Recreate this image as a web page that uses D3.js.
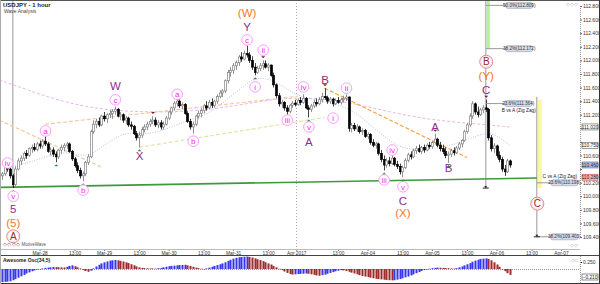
<!DOCTYPE html>
<html>
<head>
<meta charset="utf-8">
<script src="https://cdn.jsdelivr.net/npm/d3@7/dist/d3.min.js"></script>
<style>
  body { margin: 0; background: #fff; }
  svg text { font-family: "Liberation Sans", Arial, sans-serif; }
</style>
</head>
<body>
<div id="chart"></div>
<script>
// hourly USDJPY candles, index 0 = Mar-27 10:00 (weekend gap removed)
var opens  = [110.30,110.33,110.42,110.40,110.30,110.17,110.40,110.52,110.56,110.63,110.60,110.70,110.72,110.69,110.77,110.74,110.81,110.77,110.66,110.68,
              110.62,110.58,110.68,110.72,110.75,110.77,110.66,110.55,110.45,110.38,110.30,110.33,110.50,110.58,110.95,111.06,111.10,111.05,111.18,111.14,
              111.20,111.22,111.25,111.28,111.18,111.20,111.12,111.15,111.05,111.03,110.92,110.86,110.90,110.98,111.02,111.06,111.10,111.12,111.05,111.08,
              111.02,111.06,111.15,111.24,111.30,111.37,111.40,111.33,111.35,111.22,111.10,111.02,111.06,111.18,111.22,111.26,111.33,111.30,111.38,111.34,
              111.40,111.47,111.52,111.55,111.70,111.82,111.85,111.92,111.97,112.05,112.02,112.10,112.08,112.00,111.90,111.82,111.88,111.92,111.95,111.90,
              111.93,111.78,111.64,111.48,111.36,111.38,111.30,111.25,111.34,111.37,111.35,111.41,111.38,111.44,111.30,111.28,111.33,111.38,111.36,111.42,
              111.47,111.45,111.40,111.43,111.36,111.41,111.38,111.42,111.44,111.46,111.00,111.04,110.99,111.02,110.95,110.97,110.88,110.91,110.79,110.75,
              110.77,110.63,110.54,110.46,110.52,110.48,110.56,110.47,110.44,110.36,110.42,110.53,110.61,110.58,110.67,110.70,110.66,110.72,110.68,110.75,
              110.73,110.79,110.84,110.75,110.70,110.66,110.60,110.62,110.67,110.64,110.71,110.77,110.82,110.95,111.05,111.18,111.36,111.24,111.20,111.27,
              111.30,111.28,110.86,110.70,110.74,110.60,110.54,110.40,110.36,110.52];
var highs  = [110.36,110.45,110.47,110.42,110.33,110.44,110.56,110.60,110.66,110.68,110.72,110.76,110.78,110.80,110.82,110.84,110.88,110.80,110.72,110.72,
              110.66,110.70,110.76,110.78,110.80,110.79,110.68,110.58,110.50,110.42,110.36,110.52,110.62,110.98,111.12,111.14,111.16,111.20,111.24,111.22,
              111.27,111.28,111.32,111.30,111.24,111.22,111.18,111.17,111.10,111.05,110.96,110.95,111.02,111.06,111.10,111.14,111.18,111.16,111.12,111.12,
              111.10,111.18,111.26,111.32,111.40,111.45,111.43,111.38,111.37,111.25,111.14,111.10,111.20,111.26,111.30,111.36,111.40,111.42,111.44,111.42,
              111.50,111.56,111.58,111.72,111.86,111.90,111.96,112.00,112.08,112.12,112.14,112.22,112.12,112.06,111.96,111.92,111.96,112.00,112.00,111.96,
              111.94,111.82,111.66,111.52,111.42,111.40,111.34,111.36,111.40,111.42,111.44,111.46,111.50,111.46,111.34,111.36,111.42,111.44,111.46,111.52,
              111.59,111.48,111.46,111.45,111.44,111.46,111.45,111.48,111.50,111.47,111.08,111.08,111.06,111.04,111.00,110.99,110.94,110.93,110.84,110.80,
              110.79,110.68,110.60,110.56,110.58,110.62,110.58,110.52,110.48,110.45,110.56,110.64,110.66,110.70,110.74,110.76,110.74,110.76,110.78,110.80,
              110.82,110.92,110.86,110.80,110.76,110.72,110.66,110.70,110.72,110.74,110.80,110.84,110.98,111.08,111.22,111.40,111.38,111.32,111.30,111.34,
              111.42,111.30,110.90,110.78,110.76,110.66,110.58,110.46,110.55,110.54];
var lows   = [110.24,110.30,110.36,110.26,110.12,110.14,110.38,110.46,110.52,110.55,110.58,110.64,110.66,110.66,110.70,110.70,110.74,110.64,110.60,110.58,
              110.50,110.55,110.62,110.66,110.70,110.64,110.52,110.42,110.34,110.26,110.22,110.30,110.46,110.56,110.92,111.00,111.02,111.03,111.10,111.08,
              111.15,111.14,111.20,111.16,111.12,111.08,111.06,111.02,110.98,110.90,110.82,110.72,110.86,110.94,110.97,111.02,111.06,111.02,111.00,110.98,
              110.98,111.04,111.12,111.20,111.26,111.32,111.30,111.28,111.20,111.08,110.98,110.92,111.03,111.14,111.16,111.22,111.26,111.28,111.30,111.30,
              111.36,111.44,111.46,111.52,111.66,111.76,111.80,111.86,111.92,111.98,112.00,112.04,111.96,111.86,111.78,111.80,111.84,111.86,111.88,111.84,
              111.76,111.60,111.44,111.32,111.30,111.26,111.18,111.22,111.30,111.32,111.33,111.34,111.36,111.28,111.16,111.24,111.30,111.32,111.34,111.38,
              111.42,111.36,111.36,111.32,111.34,111.36,111.35,111.38,111.40,110.95,110.94,110.96,110.95,110.92,110.90,110.86,110.84,110.76,110.72,110.70,
              110.60,110.50,110.38,110.42,110.44,110.46,110.44,110.40,110.32,110.28,110.40,110.50,110.54,110.56,110.62,110.64,110.62,110.64,110.66,110.70,
              110.70,110.76,110.72,110.66,110.62,110.56,110.49,110.58,110.60,110.62,110.68,110.72,110.80,110.92,111.02,111.14,111.20,111.16,111.18,111.22,
              111.24,110.82,110.66,110.64,110.56,110.50,110.36,110.30,110.34,110.42];
var closes = [110.33,110.42,110.40,110.30,110.17,110.40,110.52,110.56,110.63,110.60,110.70,110.72,110.69,110.77,110.74,110.81,110.77,110.66,110.68,110.62,
              110.58,110.68,110.72,110.75,110.77,110.66,110.55,110.45,110.38,110.30,110.33,110.50,110.58,110.95,111.06,111.10,111.05,111.18,111.14,111.20,
              111.22,111.25,111.28,111.18,111.20,111.12,111.15,111.05,111.03,110.92,110.86,110.90,110.98,111.02,111.06,111.10,111.12,111.05,111.08,111.02,
              111.06,111.15,111.24,111.30,111.37,111.40,111.33,111.35,111.22,111.10,111.02,111.06,111.18,111.22,111.26,111.33,111.30,111.38,111.34,111.40,
              111.47,111.52,111.55,111.70,111.82,111.85,111.92,111.97,112.05,112.02,112.10,112.08,112.00,111.90,111.82,111.88,111.92,111.95,111.90,111.93,
              111.78,111.64,111.48,111.36,111.38,111.30,111.25,111.34,111.37,111.35,111.41,111.38,111.44,111.30,111.28,111.33,111.38,111.36,111.42,111.47,
              111.45,111.40,111.43,111.36,111.41,111.38,111.42,111.44,111.46,111.00,111.04,110.99,111.02,110.95,110.97,110.88,110.91,110.79,110.75,110.77,
              110.63,110.54,110.46,110.52,110.48,110.56,110.47,110.44,110.36,110.42,110.53,110.61,110.58,110.67,110.70,110.66,110.72,110.68,110.75,110.73,
              110.79,110.84,110.75,110.70,110.66,110.60,110.62,110.67,110.64,110.71,110.77,110.82,110.95,111.05,111.18,111.36,111.24,111.20,111.27,111.30,
              111.28,110.86,110.70,110.74,110.60,110.54,110.40,110.36,110.52,110.46];

// Awesome Oscillator, one value per candle
var aoValues = [-0.47,-0.46,-0.45,-0.44,-0.40,-0.36,-0.31,-0.26,-0.21,-0.16,-0.12,-0.08,-0.05,-0.02,0.00,0.02,0.04,0.05,0.06,0.07,
                0.066,0.062,0.058,0.056,0.08,0.11,0.13,0.10,0.06,0.02,-0.03,-0.07,-0.10,-0.06,0.02,0.09,0.15,0.20,0.24,0.27,
                0.30,0.31,0.32,0.31,0.29,0.27,0.24,0.21,0.17,0.13,0.09,0.06,0.04,0.03,0.025,0.02,0.018,0.016,0.03,0.04,
                0.06,0.08,0.10,0.11,0.12,0.13,0.14,0.145,0.15,0.13,0.11,0.08,0.05,0.03,0.01,0.00,0.02,0.05,0.08,0.11,
                0.14,0.17,0.20,0.24,0.29,0.33,0.37,0.40,0.42,0.43,0.44,0.445,0.43,0.41,0.38,0.35,0.32,0.28,0.24,0.20,
                0.16,0.11,0.06,0.01,-0.04,-0.09,-0.14,-0.18,-0.20,-0.19,-0.18,-0.175,-0.17,-0.16,-0.17,-0.19,-0.21,-0.23,-0.24,-0.22,
                -0.20,-0.17,-0.14,-0.11,-0.08,-0.06,-0.04,-0.05,-0.07,-0.10,-0.13,-0.16,-0.19,-0.22,-0.25,-0.27,-0.29,-0.31,-0.33,-0.35,
                -0.36,-0.37,-0.38,-0.39,-0.40,-0.405,-0.40,-0.38,-0.36,-0.33,-0.30,-0.27,-0.23,-0.19,-0.15,-0.11,-0.07,-0.04,-0.01,0.01,
                0.03,0.04,0.05,0.045,0.04,0.035,0.03,0.02,0.015,0.03,0.06,0.09,0.13,0.17,0.21,0.26,0.30,0.33,0.36,0.37,
                0.38,0.36,0.31,0.24,0.16,0.08,0.00,-0.08,-0.15,-0.21];

// moving averages: [index, price]
var slowMA = [[-1,111.71],[10,111.56],[20,111.42],[33,111.30],[48,111.24],[66,111.24],[81,111.29],[96,111.40],[109,111.46],
              [126,111.42],[148,111.20],[163,111.11],[178,111.06],[189,111.02]];
var fastMA = [[4,110.43],[15,110.56],[24,110.68],[31,110.55],[38,110.75],[46,110.96],[53,110.90],[61,110.98],[69,111.12],
              [76,111.19],[83,111.40],[91,111.66],[95,111.76],[102,111.70],[109,111.48],[118,111.41],[130,111.31],
              [139,110.97],[148,110.71],[154,110.68],[164,110.71],[173,110.83],[180,110.94],[184,110.90],[189,110.75]];

// trend lines: [index, price] pairs
var trendLines = [
  {pts: [[-1,111.12],[37,110.43]], color: "#f7c9a0"},
  {pts: [[16,111.06],[110,111.47]], color: "#f7c9a0"},
  {pts: [[51,110.72],[120,111.16]], color: "#e6e2a8"},
  {pts: [[120,111.59],[173,110.57]], color: "#f2a13c"}
];
var supportLine = [[-1,110.13],[215,110.28]];

// wave labels: text, index, price, kind
var waveLabels = [
  ["iv",1.9,110.49,"minor"],["v",4,110.00,"minor"],["5",4,109.81,"inter"],["(5)",4,109.61,"primary"],["A",4,109.41,"cycle"],
  ["a",16,110.96,"minor"],["b",30,110.09,"minor"],["c",42,111.42,"minor"],["W",42,111.62,"inter"],["X",51,110.59,"inter"],
  ["a",65,111.50,"minor"],["b",71,110.81,"minor"],["c",91,112.30,"minor"],["Y",91,112.49,"inter"],["(W)",91,112.70,"primary"],
  ["i",94,111.61,"minor"],["ii",97,112.15,"minor"],["iii",106,111.12,"minor"],["iv",112,111.61,"minor"],["v",114,111.02,"minor"],
  ["A",114,110.80,"inter"],["B",120,111.71,"inter"],["i",123,111.15,"minor"],["ii",128,111.59,"minor"],["iii",142,110.24,"minor"],
  ["iv",145,110.68,"minor"],["v",149,110.14,"minor"],["C",149,109.94,"inter"],["(X)",149,109.75,"primary"],
  ["A",161,111.02,"inter"],["B",166,110.42,"inter"],["B",180,111.98,"cycle"],["(Y)",180,111.78,"primary"],["C",180,111.57,"inter"],
  ["C",199,109.89,"cycle"]
];
var pivotHighs = [16,42,56,65,91,97,112,120,128,161,180];
var pivotLows = [4,20,30,51,71,94,106,114,142,149,166];

// fib measurement tool
var fibTop = [{text: "50.0%(112.809)", price: 112.809}, {text: "38.2%(112.172)", price: 112.172}];
var fibB = {text: "23.6%(111.364)", price: 111.364, name: "B vs A (Zig Zag)"};
var fibC = [{text: "23.6%(110.198)", price: 110.198, name: "C vs A (Zig Zag)"}, {text: "38.2%(109.403)", price: 109.403}];
var waveLow = 110.12, cTop = 111.42;

var priceTicks = [109.4,109.6,109.8,110.0,110.2,110.4,110.6,110.8,111.0,111.2,111.4,111.6,111.8,112.0,112.2,112.4,112.6,112.8];
var timeTicks = [14,27,38,51,62,75,86,99,109.5,125,136,149,160,173,184,197,208];
var timeLabels = ["Mar-28","13:00","Mar-29","13:00","Mar-30","13:00","Mar-31","13:00","Apr 2017","13:00",
                  "Apr-04","13:00","Apr-05","13:00","Apr-06","13:00","Apr-07"];

window.onload = function() {
  var width = 600, height = 284;
  var plotRight = 580, plotBottom = 249;

  var svg = d3.select("#chart").append("svg")
    .attr("width", width).attr("height", height);

  var x = d3.scaleLinear().domain([0, 208]).range([2, 561]);
  var y = d3.scaleLinear().domain([109.4, 112.8]).range([237, 6]);
  var yAo = d3.scaleLinear().domain([0, 0.25]).range([269, 262]);

  var plot = svg.append("g");
  plot.append("clipPath").attr("id", "clip")
    .append("rect").attr("x", 0).attr("y", 0).attr("width", plotRight).attr("height", plotBottom);
  var g = plot.append("g").attr("clip-path", "url(#clip)");

  // month separator
  g.append("line")
    .attr("x1", Math.round(x(109.5)) + 0.5).attr("x2", Math.round(x(109.5)) + 0.5)
    .attr("y1", 0).attr("y2", plotBottom)
    .style("stroke", "#aaa").style("stroke-dasharray", "1,2");

  // vertical markers of the measuring tool
  [4, 180].forEach(function(i) {
    g.append("line")
      .attr("x1", x(i)).attr("x2", x(i)).attr("y1", 0).attr("y2", y(waveLow))
      .style("stroke", "#bdbdbd").style("stroke-width", 1.6);
  });
  g.append("rect").attr("x", x(180) + 1).attr("width", 3)
    .attr("y", 0).attr("height", y(fibTop[1].price))
    .style("fill", "#b5f29b");
  g.append("rect").attr("x", x(199) + 1).attr("width", 4)
    .attr("y", y(cTop)).attr("height", y(waveLow) - y(cTop))
    .style("fill", "#fbf7a0");
  g.append("line")
    .attr("x1", x(199)).attr("x2", x(199)).attr("y1", y(cTop) - 3).attr("y2", y(fibC[1].price))
    .style("stroke", "#9a9a9a").style("stroke-width", 1);

  // moving averages
  var line = d3.line().x(function(d) { return x(d[0]); }).y(function(d) { return y(d[1]); }).curve(d3.curveBasis);
  g.append("path").datum(slowMA).attr("d", line)
    .style("fill", "none").style("stroke", "#e9b7e6").style("stroke-width", 1).style("stroke-dasharray", "3,2");
  g.append("path").datum(fastMA).attr("d", line)
    .style("fill", "none").style("stroke", "#9fb4f4").style("stroke-width", 0.8).style("stroke-dasharray", "1,1.5");

  var straight = d3.line().x(function(d) { return x(d[0]); }).y(function(d) { return y(d[1]); });
  trendLines.forEach(function(t) {
    g.append("path").datum(t.pts).attr("d", straight)
      .style("fill", "none").style("stroke", t.color).style("stroke-width", 1.2).style("stroke-dasharray", "4,2");
  });

  // support line, stops at the measuring tool
  var supportEnd = [supportLine[0], [199, supportLine[0][1] + (supportLine[1][1] - supportLine[0][1]) * 200 / 216]];
  g.append("path").datum(supportEnd).attr("d", straight)
    .style("stroke", "#3c9a3c").style("stroke-width", 1.6).style("fill", "none");

  // candles
  var idx = d3.range(closes.length);
  var candles = g.append("g").selectAll("g").data(idx).enter().append("g");
  candles.append("line")
    .attr("x1", function(i) { return Math.round(x(i)) + 0.5; })
    .attr("x2", function(i) { return Math.round(x(i)) + 0.5; })
    .attr("y1", function(i) { return y(highs[i]); })
    .attr("y2", function(i) { return y(lows[i]); })
    .style("stroke", function(i) { return closes[i] >= opens[i] ? "#777" : "#111"; })
    .style("stroke-width", 0.8);
  candles.append("rect")
    .attr("x", function(i) { return Math.round(x(i)) - 0.5; })
    .attr("width", 2)
    .attr("y", function(i) { return y(Math.max(opens[i], closes[i])); })
    .attr("height", function(i) { return Math.max(1, Math.abs(y(opens[i]) - y(closes[i]))); })
    .style("fill", function(i) { return closes[i] >= opens[i] ? "#fff" : "#000"; })
    .style("stroke", function(i) { return closes[i] >= opens[i] ? "#808080" : "#000"; })
    .style("stroke-width", 0.7);

  // pivot markers
  g.selectAll(".ph").data(pivotHighs).enter().append("path")
    .attr("d", function(i) { var cx = x(i) + 0.5, cy = y(highs[i]) - 2; return "M" + (cx - 2) + "," + (cy - 2) + "L" + (cx + 2) + "," + (cy - 2) + "L" + cx + "," + cy + "Z"; })
    .style("fill", "#7a1f2a");
  g.selectAll(".pl").data(pivotLows).enter().append("path")
    .attr("d", function(i) { var cx = x(i) + 0.5, cy = y(lows[i]) + 2; return "M" + (cx - 2) + "," + (cy + 2) + "L" + (cx + 2) + "," + (cy + 2) + "L" + cx + "," + cy + "Z"; })
    .style("fill", "#2e8b3e");

  // fib level lines and boxes
  function levelBox(xs, xe, price, text) {
    g.append("line").attr("x1", xs).attr("x2", xe).attr("y1", y(price)).attr("y2", y(price))
      .style("stroke", "#9a9a9a").style("stroke-width", 1);
    g.append("rect").attr("x", xe).attr("y", y(price) - 3).attr("width", 27).attr("height", 6).attr("rx", 2)
      .style("fill", "#d9dcea").style("stroke", "#8a8fa8").style("stroke-width", 0.5);
    g.append("text").attr("x", xe + 13.5).attr("y", y(price) + 1.6).attr("text-anchor", "middle")
      .style("font-size", "4.6px").style("fill", "#333").text(text);
  }
  fibTop.forEach(function(f) { levelBox(x(180), x(180) + 20, f.price, f.text); });
  levelBox(x(180), x(180) + 19, fibB.price, fibB.text);
  g.append("text").attr("x", x(180) + 33).attr("y", y(fibB.price) + 8).attr("text-anchor", "middle")
    .style("font-size", "4.8px").style("fill", "#222").text(fibB.name);
  levelBox(x(199), x(199) + 14, fibC[0].price, fibC[0].text);
  g.append("text").attr("x", 577).attr("y", y(fibC[0].price) - 5).attr("text-anchor", "end")
    .style("font-size", "4.8px").style("fill", "#222").text(fibC[0].name);
  levelBox(x(199), x(199) + 14, fibC[1].price, fibC[1].text);
  // T marks at the bottom of the vertical lines
  [[180, waveLow], [199, fibC[1].price]].forEach(function(p) {
    g.append("line").attr("x1", x(p[0]) - 3).attr("x2", x(p[0]) + 3).attr("y1", y(p[1])).attr("y2", y(p[1]))
      .style("stroke", "#222").style("stroke-width", 1);
    g.append("path").attr("d", "M" + (x(p[0]) - 1.5) + "," + (y(p[1]) - 2) + "L" + (x(p[0]) + 1.5) + "," + (y(p[1]) - 2) + "L" + x(p[0]) + "," + y(p[1]) + "Z")
      .style("fill", "#222");
  });

  // wave labels
  var labels = g.append("g");
  waveLabels.forEach(function(w) {
    var cx = x(w[1]) + 0.5, cy = y(w[2]);
    if (w[3] === "minor") {
      labels.append("circle").attr("cx", cx).attr("cy", cy).attr("r", 5.3)
        .style("fill", "#fff").style("stroke", "#ff9cff").style("stroke-width", 1);
      labels.append("text").attr("x", cx).attr("y", cy + 2.8).attr("text-anchor", "middle")
        .style("font-size", "8px").style("fill", "#f02cf0").text(w[0]);
    } else if (w[3] === "inter") {
      labels.append("text").attr("x", cx).attr("y", cy + 4.2).attr("text-anchor", "middle")
        .style("font-size", "11.5px").style("fill", "#8e2d8e").text(w[0]);
    } else if (w[3] === "primary") {
      labels.append("text").attr("x", cx).attr("y", cy + 4.2).attr("text-anchor", "middle")
        .style("font-size", "11.5px").style("fill", "#f3782c").text(w[0]);
    } else {
      labels.append("circle").attr("cx", cx).attr("cy", cy).attr("r", 6.5)
        .style("fill", "#fff").style("stroke", "#d88a8a").style("stroke-width", 1);
      labels.append("circle").attr("cx", cx).attr("cy", cy).attr("r", 5.3)
        .style("fill", "none").style("stroke", "#f0c4c4").style("stroke-width", 0.6);
      labels.append("text").attr("x", cx).attr("y", cy + 3.7).attr("text-anchor", "middle")
        .style("font-size", "10px").style("fill", "#a3231f").text(w[0]);
    }
  });

  // value boxes on the price axis: slow MA, fast MA, last price, support line
  var axisBoxes = [
    {v: slowMA[slowMA.length - 1][1], fill: "#fff", stroke: "#555"},
    {v: fastMA[fastMA.length - 1][1], fill: "#fff", stroke: "#555"},
    {v: closes[closes.length - 1], fill: "#b7bde8", stroke: "#5860b0"},
    {v: supportLine[1][1], fill: "#f2b9b9", stroke: "#b44"}
  ];

  // price axis, labels hidden where a value box covers them
  var yAxis = d3.axisRight(y).tickValues(priceTicks).tickFormat(d3.format(".3f")).tickSize(2);
  var ya = svg.append("g").attr("transform", "translate(" + plotRight + ",0)").call(yAxis);
  ya.select(".domain").style("stroke", "#999").style("stroke-dasharray", "1,1");
  ya.selectAll("line").style("stroke", "#666");
  ya.selectAll("text").style("font-size", "5px").style("fill", "#333").attr("x", 3)
    .style("display", function(d) {
      var hidden = axisBoxes.some(function(b) { return Math.abs(y(b.v) - y(d)) < 4.8; });
      return hidden ? "none" : null;
    });

  axisBoxes.forEach(function(b) {
    svg.append("rect").attr("x", 582).attr("y", y(b.v) - 3).attr("width", 16).attr("height", 6)
      .style("fill", b.fill).style("stroke", b.stroke).style("stroke-width", 0.6);
    svg.append("text").attr("x", 590).attr("y", y(b.v) + 1.7).attr("text-anchor", "middle")
      .style("font-size", "4.8px").style("fill", "#222").text(d3.format(".3f")(b.v));
  });

  // time axis
  var xAxis = d3.axisBottom(x).tickValues(timeTicks)
    .tickFormat(function(d, i) { return timeLabels[i]; }).tickSize(2);
  var xa = svg.append("g").attr("transform", "translate(0," + plotBottom + ")").call(xAxis);
  xa.select(".domain").remove();
  xa.selectAll("line").style("stroke", "#777");
  xa.selectAll("text").attr("y", 3).style("font-size", "4.8px").style("fill", "#333");

  // frames
  svg.append("line").attr("x1", 0).attr("x2", plotRight).attr("y1", plotBottom + 0.5).attr("y2", plotBottom + 0.5).style("stroke", "#bbb");
  svg.append("line").attr("x1", 0).attr("x2", width).attr("y1", 255.5).attr("y2", 255.5).style("stroke", "#444");
  svg.append("line").attr("x1", 0).attr("x2", width).attr("y1", 0.5).attr("y2", 0.5).style("stroke", "#555");
  svg.append("line").attr("x1", 0).attr("x2", width).attr("y1", 283.5).attr("y2", 283.5).style("stroke", "#333");
  svg.append("line").attr("x1", 0.5).attr("x2", 0.5).attr("y1", 0).attr("y2", height).style("stroke", "#aaa");
  svg.append("line").attr("x1", 599.5).attr("x2", 599.5).attr("y1", 0).attr("y2", height).style("stroke", "#333");

  // awesome oscillator panel
  var ao = svg.append("g");
  ao.append("line").attr("x1", 0).attr("x2", plotRight).attr("y1", yAo(0) + 0.5).attr("y2", yAo(0) + 0.5)
    .style("stroke", "#999").style("stroke-dasharray", "1,1");
  ao.selectAll("rect").data(idx).enter().append("rect")
    .attr("x", function(i) { return Math.round(x(i)) - 0.5; })
    .attr("width", 2)
    .attr("y", function(i) { return Math.min(yAo(aoValues[i]), yAo(0)); })
    .attr("height", function(i) { return Math.max(0.5, Math.abs(yAo(aoValues[i]) - yAo(0))); })
    .style("fill", function(i) { return (i === 0 || aoValues[i] >= aoValues[i - 1]) ? "#3535f2" : "#9e2b2b"; });
  var aoAxis = d3.axisRight(yAo).tickValues([0.25]).tickFormat(d3.format(".3f")).tickSize(2);
  var aa = svg.append("g").attr("transform", "translate(" + plotRight + ",0)").call(aoAxis);
  aa.select(".domain").remove();
  aa.selectAll("text").style("font-size", "5px").style("fill", "#333").attr("x", 3);
  svg.append("line").attr("x1", plotRight + 0.5).attr("x2", plotRight + 0.5).attr("y1", 256).attr("y2", 283)
    .style("stroke", "#999").style("stroke-dasharray", "1,1");
  svg.append("rect").attr("x", 582).attr("y", 274).attr("width", 16).attr("height", 6)
    .style("fill", "#fff").style("stroke", "#444").style("stroke-width", 0.6);
  svg.append("text").attr("x", 590).attr("y", 278.6).attr("text-anchor", "middle")
    .style("font-size", "4.8px").style("fill", "#222").text(d3.format(".3f")(aoValues[aoValues.length - 1]));

  // titles
  svg.append("text").attr("x", 3).attr("y", 6.5).style("font-size", "6px").style("font-weight", "bold")
    .style("fill", "#222").text("USDJPY - 1 hour");
  svg.append("text").attr("x", 4).attr("y", 12.5).style("font-size", "5px").style("fill", "#444").text("Wave Analysis");
  svg.append("text").attr("x", 3).attr("y", 262).style("font-size", "5px").style("font-weight", "bold")
    .style("fill", "#222").text("Awesome Osc(34,5)");
  svg.append("text").attr("x", 3).attr("y", 246).style("font-size", "4.5px").style("fill", "#555").text("\u25C7\u25C7 \u25C7\u25C7  MotiveWave");
  svg.append("text").attr("x", 578).attr("y", 6).attr("text-anchor", "end").style("font-size", "5px")
    .style("fill", "#aaa").text("\u25C7\u25C7\u25C7");
  svg.append("text").attr("x", 578).attr("y", 247).attr("text-anchor", "end").style("font-size", "5px")
    .style("fill", "#aaa").text("\u25C7\u25C7");
  svg.append("text").attr("x", 578).attr("y", 262).attr("text-anchor", "end").style("font-size", "5px")
    .style("fill", "#aaa").text("\u25C7\u25A1");
};
</script>
</body>
</html>
